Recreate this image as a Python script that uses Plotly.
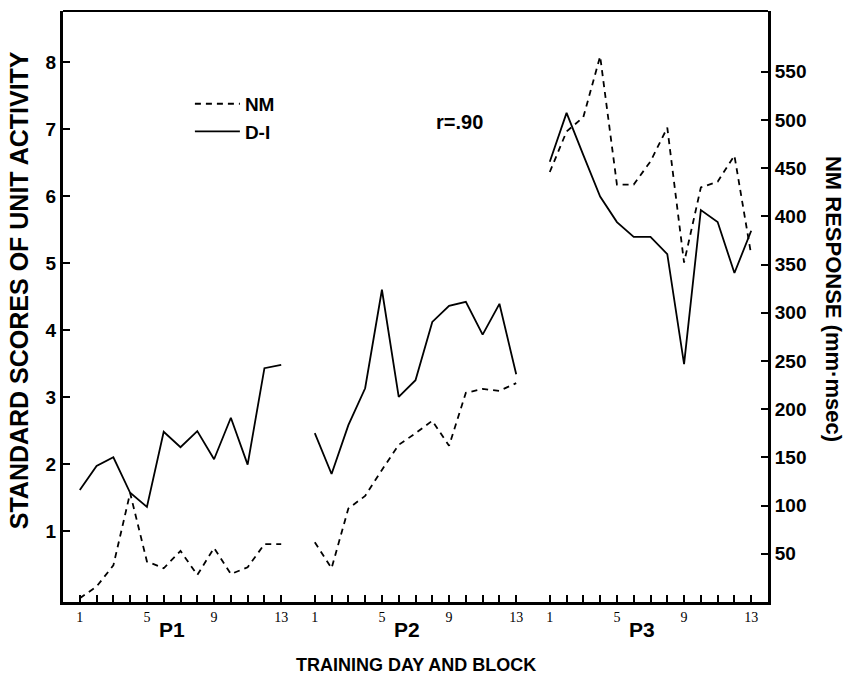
import plotly.graph_objects as go

# ---- data ----
blocks = list(range(1, 14))
periods = ["P1", "P2", "P3"]
block_tick_labels = ["1", "", "", "", "5", "", "", "", "9", "", "", "", "13"]

# D-I unit activity (standard scores, left axis)
di_p1 = [1.61, 1.97, 2.10, 1.57, 1.36, 2.48, 2.25, 2.49, 2.07, 2.69, 1.99, 3.43, 3.48]
di_p2 = [2.46, 1.85, 2.58, 3.13, 4.60, 3.00, 3.25, 4.12, 4.36, 4.42, 3.93, 4.39, 3.34]
di_p3 = [6.51, 7.24, 6.61, 5.99, 5.61, 5.39, 5.39, 5.13, 3.49, 5.79, 5.61, 4.85, 5.48]

# NM response (mm·msec, right axis)
nm_p1 = [4, 16, 38, 113, 42, 35, 53, 28, 56, 29, 36, 60, 60]
nm_p2 = [62, 35, 97, 110, 137, 163, 175, 188, 162, 217, 221, 219, 227]
nm_p3 = [446, 488, 503, 566, 433, 433, 457, 492, 352, 430, 436, 463, 360]

left_ticks = [1, 2, 3, 4, 5, 6, 7, 8]
right_ticks = [50, 100, 150, 200, 250, 300, 350, 400, 450, 500, 550]

# ---- layout helpers ----
period_offset = {"P1": 0, "P2": 14, "P3": 28}


def build(series):
    xs, ys = [], []
    for p, vals in zip(periods, series):
        xs += [period_offset[p] + b for b in blocks] + [None]
        ys += list(vals) + [None]
    return xs, ys


x_di, y_di = build([di_p1, di_p2, di_p3])
x_nm, y_nm = build([nm_p1, nm_p2, nm_p3])

tickvals, ticktext = [], []
for p in periods:
    tickvals += [period_offset[p] + b for b in blocks]
    ticktext += block_tick_labels

BOLD = "Liberation Sans, Arial, sans-serif"

fig = go.Figure()
fig.add_trace(go.Scatter(
    x=x_nm, y=y_nm, yaxis="y2", mode="lines", name="NM", legendgroup="a",
    line=dict(color="black", width=1.8, dash="6px,5px"), connectgaps=False))
fig.add_trace(go.Scatter(
    x=x_di, y=y_di, yaxis="y", mode="lines", name="D-I", legendgroup="b",
    line=dict(color="black", width=1.8), connectgaps=False))

fig.update_layout(
    width=847, height=677,
    margin=dict(l=63, r=79, t=11, b=75),
    paper_bgcolor="white", plot_bgcolor="white",
    showlegend=True,
    legend=dict(x=0.18, y=0.875, xanchor="left", yanchor="top",
                bgcolor="rgba(0,0,0,0)", traceorder="grouped",
                tracegroupgap=0, itemwidth=45,
                font=dict(family=BOLD, size=19, color="black", weight="bold")),
    xaxis=dict(range=[0, 42], tickvals=tickvals, ticktext=ticktext,
               ticks="inside", ticklen=7, tickwidth=1.5, tickcolor="black",
               showline=True, linewidth=3, linecolor="black",
               showgrid=False, zeroline=False,
               tickfont=dict(family="Liberation Serif, Times New Roman, serif",
                             size=14, color="black")),
    yaxis=dict(range=[-0.06, 8.76], tickvals=left_ticks,
               ticks="inside", ticklen=7, tickwidth=1.5, tickcolor="black",
               showline=True, linewidth=3, linecolor="black",
               showgrid=False, zeroline=False,
               tickfont=dict(family=BOLD, size=19, color="black", weight="bold")),
    yaxis2=dict(range=[0, 613], tickvals=right_ticks, overlaying="y", side="right",
                ticks="inside", ticklen=7, tickwidth=1.5, tickcolor="black",
                showline=True, linewidth=3, linecolor="black",
                showgrid=False, zeroline=False,
                tickfont=dict(family=BOLD, size=19, color="black", weight="bold")),
)

# top frame line
fig.add_shape(type="line", xref="paper", yref="paper", x0=0, x1=1, y0=1, y1=1,
              line=dict(color="black", width=2))

ann_font = dict(family=BOLD, color="black", weight="bold")
fig.add_annotation(text="r=.90", xref="paper", yref="paper", x=0.562, y=0.812,
                   xanchor="center", yanchor="middle",
                   showarrow=False, font=dict(size=20, **ann_font))
for p in periods:
    fig.add_annotation(text=p, xref="x", yref="paper", x=period_offset[p] + 6.5,
                       y=-0.047, yanchor="middle", showarrow=False,
                       font=dict(size=21, **ann_font))
fig.add_annotation(text="TRAINING DAY AND BLOCK", xref="paper", yref="paper",
                   x=0.5, y=-0.107, yanchor="middle", showarrow=False,
                   font=dict(size=18, **ann_font))
fig.add_annotation(text="STANDARD SCORES OF UNIT ACTIVITY", xref="paper", yref="paper",
                   x=-0.062, y=0.528, textangle=-90, xanchor="center", yanchor="middle",
                   showarrow=False, font=dict(size=25, **ann_font))
fig.add_annotation(text="NM RESPONSE (mm·msec)", xref="paper", yref="paper",
                   x=1.092, y=0.513, textangle=90, xanchor="center", yanchor="middle",
                   showarrow=False, font=dict(size=22, **ann_font))

fig.write_html("out.html")
